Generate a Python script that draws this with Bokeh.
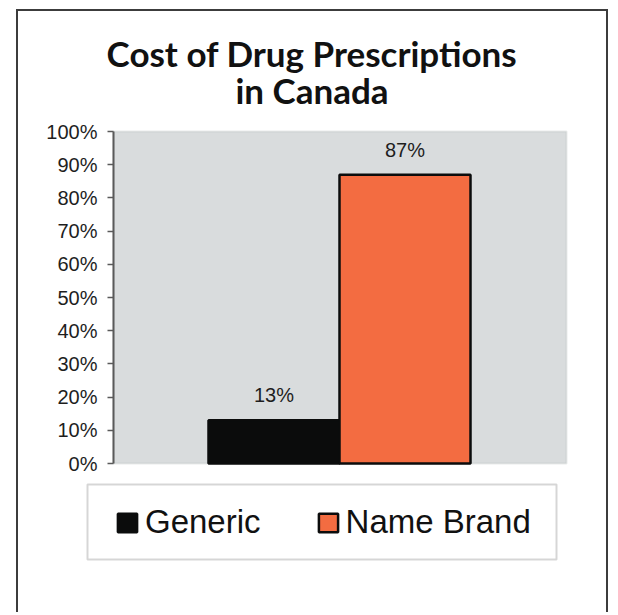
from bokeh.plotting import figure
from bokeh.models import (ColumnDataSource, Range1d, NumeralTickFormatter, LinearAxis,
                          LabelSet, Label, Legend, LegendItem, FixedTicker, BoxAnnotation)
from bokeh.core.properties import value
from bokeh.embed import file_html
from bokeh.resources import INLINE

# ---- data ----
categories = ["Generic", "Name Brand"]
shares = [0.13, 0.87]
bar_colors = ["#0B0C0C", "#F36C41"]
y_ticks = [0.0, 0.1, 0.2, 0.3, 0.4, 0.5, 0.6, 0.7, 0.8, 0.9, 1.0]
title_lines = ["Cost of Drug Prescriptions", "in Canada"]

labels = [f"{round(v * 100)}%" for v in shares]
xpos = [i + 0.5 for i in range(len(categories))]          # category slots
src = ColumnDataSource(dict(x=xpos, cat=categories, share=shares, color=bar_colors, label=labels))

FONT = "Liberation Sans"
TITLE_FONT = "Lato"
FRAME = "#3c3c3c"
OUTLINE = "#0B0C0C"

# ---- layout geometry (pixels on the canvas) ----
W, H = 608, 612
PLOT_L, PLOT_R, PLOT_T, PLOT_B = 113, 566, 131, 463     # grey plot area
GROUP_L, GROUP_R = 208, 470                              # outer edges of the bar group
ppx = (GROUP_R - GROUP_L) / len(categories)
ppy = (PLOT_B - PLOT_T) / 1.0
x0 = -GROUP_L / ppx
y0 = -(H - PLOT_B) / ppy

p = figure(
    x_range=Range1d(x0, x0 + W / ppx), y_range=Range1d(y0, y0 + H / ppy),
    x_axis_location=None, y_axis_location=None,
    frame_width=W, frame_height=H, min_border=0,
    output_backend="svg", toolbar_location=None,
    background_fill_color=None, border_fill_color=None,
)
p.styles = {"box-shadow": f"inset 16px 9px 0 white, inset 18px 11px 0 {FRAME}, inset -2px 0 0 {FRAME}"}
p.outline_line_color = None
p.grid.visible = False

# grey plot area (0% .. 100%)
p.add_layout(BoxAnnotation(left=PLOT_L, right=PLOT_R, left_units="screen", right_units="screen",
                           bottom=0, top=1, fill_color="#D9DCDD", fill_alpha=1.0,
                           line_color="#B4BCB8", line_width=2, level="underlay"))

ya = LinearAxis(fixed_location=x0 + PLOT_L / ppx, bounds=(0, 1))
ya.ticker = FixedTicker(ticks=y_ticks)
ya.formatter = NumeralTickFormatter(format="0%")
ya.axis_line_color = "#5a5a5a"
ya.axis_line_width = 2
ya.major_tick_line_color = "#5a5a5a"
ya.major_tick_line_width = 1.5
ya.major_tick_out = 6
ya.major_tick_in = 0
ya.minor_tick_line_color = None
ya.major_label_text_font = FONT
ya.major_label_text_font_size = "20px"
ya.major_label_text_color = "#1e1e1e"
ya.major_label_standoff = 10
p.add_layout(ya, "left")

r = p.vbar(x="x", top="share", width=1.0, source=src, fill_color="color",
           line_color=OUTLINE, line_width=2.5)

p.add_layout(LabelSet(x="x", y="share", text="label", source=src, y_offset=18,
                      text_align="center", text_baseline="alphabetic",
                      text_font=value(FONT), text_font_size="20px", text_color="#1e1e1e"))

# title (two centred lines)
for txt, base in zip(title_lines, [67, 104]):
    p.add_layout(Label(x=311.5, y=H - base + 15, x_units="screen", y_units="screen", text=txt,
                       text_align="center", text_baseline="alphabetic",
                       text_font=TITLE_FONT, text_font_style="bold",
                       text_font_size="35px", text_color="#111111"))

# legend box + legend
LG_L, LG_R, LG_T, LG_B = 87, 556, 484, 559
p.add_layout(BoxAnnotation(left=LG_L, right=LG_R, top=H - LG_T, bottom=H - LG_B,
                           left_units="screen", right_units="screen",
                           top_units="screen", bottom_units="screen",
                           fill_color="white", fill_alpha=1.0,
                           line_color="#777777", line_width=2, level="underlay"))
legend = Legend(
    items=[LegendItem(label=c, renderers=[r], index=i) for i, c in enumerate(categories)],
    orientation="horizontal", location=(115, H - 541),
    label_text_font=FONT, label_text_font_size="33px", label_text_color="#111111",
    glyph_width=24, glyph_height=23, label_standoff=6, spacing=55,
    padding=0, margin=0,
    border_line_color=None, background_fill_alpha=0,
)
p.add_layout(legend, "center")

open("out.html", "w").write(file_html(p, INLINE))
